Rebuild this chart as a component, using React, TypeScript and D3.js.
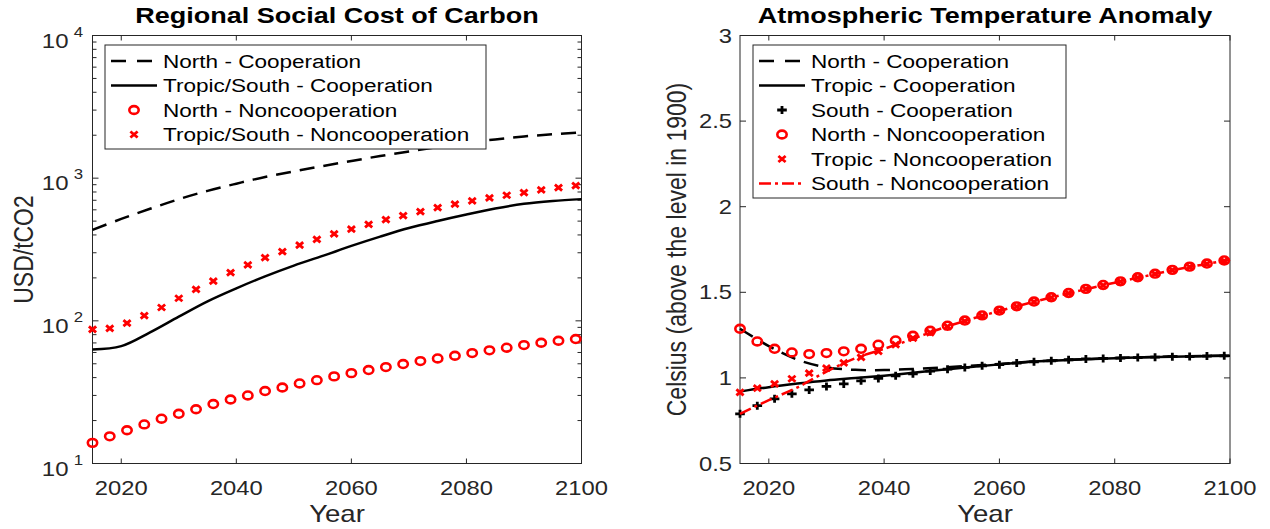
import React from "react";
import * as d3 from "d3";

// ---- data ----
const years3 = [2015, 2018, 2021, 2024, 2027, 2030, 2033, 2036, 2039, 2042, 2045, 2048, 2051, 2054, 2057,
  2060, 2063, 2066, 2069, 2072, 2075, 2078, 2081, 2084, 2087, 2090, 2093, 2096, 2099];
const years5 = [2015, 2020, 2025, 2030, 2035, 2040, 2045, 2050, 2055, 2060, 2065, 2070, 2075, 2080, 2085, 2090, 2095, 2100];

// Regional social cost of carbon (USD/tCO2)
const sccNorthCoop = [434, 518, 610, 712, 815, 915, 1020, 1115, 1215, 1320, 1430, 1540, 1655, 1770, 1870, 1960, 2030, 2095];
const sccSouthCoop = [63, 66.5, 83, 107, 137, 169, 205, 244, 285, 335, 389, 447, 501, 556, 612, 661, 692, 713];
const sccNorthNonc = [13.95, 15.5, 17.1, 18.8, 20.6, 22.3, 24.0, 26.1, 28.1, 30.0, 32.2, 34.1, 36.4, 38.4, 40.8,
  43.0, 45.2, 47.4, 49.8, 52.2, 54.5, 56.9, 59.4, 62.1, 64.8, 67.6, 70.2, 72.5, 74.5];
const sccSouthNonc = [87.1, 88.5, 96.5, 108.7, 124, 144, 166, 190, 218, 247, 277, 306, 339, 373, 407,
  440, 475, 512, 547, 583, 622, 657, 693, 727, 759, 792, 827, 859, 887];

// Atmospheric temperature anomaly (Celsius)
const tempNorthCoop = [1.287, 1.186, 1.106, 1.062, 1.047, 1.046, 1.052, 1.06, 1.071, 1.081, 1.094, 1.103, 1.11, 1.116, 1.121, 1.125, 1.128, 1.131];
const tempTropicCoop = [0.92, 0.946, 0.967, 0.985, 0.999, 1.013, 1.03, 1.047, 1.064, 1.079, 1.093, 1.102, 1.109, 1.115, 1.12, 1.124, 1.127, 1.13];
const tempSouthCoop = [0.79, 0.838, 0.878, 0.907, 0.93, 0.95, 0.965, 0.983, 0.997, 1.012, 1.024, 1.04, 1.051, 1.061, 1.071,
  1.077, 1.087, 1.094, 1.1, 1.106, 1.111, 1.114, 1.116, 1.119, 1.121, 1.124, 1.125, 1.128, 1.129];
const tempNorthNonc = [1.287, 1.213, 1.17, 1.149, 1.139, 1.145, 1.155, 1.17, 1.194, 1.219, 1.246, 1.275, 1.305, 1.335, 1.365,
  1.393, 1.418, 1.446, 1.471, 1.496, 1.52, 1.543, 1.564, 1.588, 1.609, 1.631, 1.65, 1.668, 1.686];
const tempTropicNonc = [0.915, 0.94, 0.965, 0.995, 1.028, 1.057, 1.088, 1.12, 1.155, 1.195, 1.232, 1.265, 1.3, 1.332, 1.362,
  1.391, 1.416, 1.444, 1.469, 1.494, 1.518, 1.541, 1.562, 1.586, 1.607, 1.629, 1.648, 1.666, 1.684];
const tempSouthNonc = [0.79, 0.87, 0.945, 1.037, 1.115, 1.17, 1.228, 1.29, 1.343, 1.391, 1.436, 1.478, 1.518, 1.556, 1.592, 1.629, 1.66, 1.69];

const yearTicks = [2020, 2040, 2060, 2080, 2100];
const tempTicks = [0.5, 1, 1.5, 2, 2.5, 3];

const sccLegend = ["North - Cooperation", "Tropic/South - Cooperation", "North - Noncooperation", "Tropic/South - Noncooperation"];
const tempLegend = ["North - Cooperation", "Tropic - Cooperation", "South - Cooperation", "North - Noncooperation",
  "Tropic - Noncooperation", "South - Noncooperation"];

// ---- look ----
const W = 1270, H = 529;
const SX = 1.2; // the figure is stretched sideways
const FONT = "'Liberation Sans', Arial, Helvetica, sans-serif";
const AX = "#262626";
const RED = "#ff0000";
const TOP = 35.5, BOTTOM = 463.5;

const Txt = ({ x, y, size, anchor = "middle", weight = "normal", rotate = 0, fill = AX, children }: any) => (
  <text transform={`translate(${x},${y}) scale(${SX},1)` + (rotate ? ` rotate(${rotate})` : "")}
    fontSize={size} textAnchor={anchor} fontWeight={weight} fill={fill} fontFamily={FONT}>{children}</text>
);

const Marker = ({ type, cx, cy }: any) => {
  if (type === "circle")
    return <ellipse cx={cx} cy={cy} rx={3.9 * SX} ry={3.9} fill="none" stroke={RED} strokeWidth={2.6} />;
  if (type === "cross") {
    const a = 3;
    return <path d={`M${cx - a * SX},${cy - a}L${cx + a * SX},${cy + a}M${cx - a * SX},${cy + a}L${cx + a * SX},${cy - a}`}
      stroke={RED} strokeWidth={2.9} fill="none" />;
  }
  const a = 4;
  return <path d={`M${cx - a * SX},${cy}h${2 * a * SX}M${cx},${cy - a}v${2 * a}`} stroke="black" strokeWidth={2.8} fill="none" />;
};

const lineStyle: any = {
  dash: { stroke: "black", dash: "15,11", len: 41 },
  solid: { stroke: "black", dash: null, len: 46 },
  dashdot: { stroke: RED, dash: "12,4,3,4", len: 46 },
};

const Legend = ({ x, y, w, labels, types }: any) => {
  const rowH = 24.5;
  const h = labels.length * rowH + 6;
  return (
    <g>
      <rect x={x} y={y} width={w} height={h} fill="white" stroke={AX} strokeWidth={1} />
      {labels.map((lab: string, i: number) => {
        const cy = y + 16 + i * rowH;
        const t = types[i];
        const ls = lineStyle[t];
        return (
          <g key={lab}>
            {ls ? <line x1={x + 6} x2={x + 6 + ls.len} y1={cy} y2={cy} stroke={ls.stroke} strokeWidth={2.5}
              strokeDasharray={ls.dash || undefined} />
              : <Marker type={t} cx={x + 29} cy={cy} />}
            <Txt x={x + 58} y={cy + 6.5} size={18.8} anchor="start" fill="black">{lab}</Txt>
          </g>
        );
      })}
    </g>
  );
};

const Frame = ({ x, y, yTickList, yMinor, yTickLabel, title, yLabel, yLabelX }: any) => {
  const [x0, x1] = x.range();
  return (
    <g>
      <rect x={x0} y={TOP} width={x1 - x0} height={BOTTOM - TOP} fill="none" stroke={AX} strokeWidth={1} />
      {yearTicks.map((t) => (
        <g key={t}>
          <line x1={x(t)} x2={x(t)} y1={BOTTOM} y2={BOTTOM - 5} stroke={AX} />
          <line x1={x(t)} x2={x(t)} y1={TOP} y2={TOP + 5} stroke={AX} />
          <Txt x={x(t)} y={494.5} size={19.8}>{t}</Txt>
        </g>
      ))}
      {yTickList.map((t: number) => (
        <g key={t}>
          <line x1={x0} x2={x0 + 6} y1={y(t)} y2={y(t)} stroke={AX} />
          <line x1={x1} x2={x1 - 6} y1={y(t)} y2={y(t)} stroke={AX} />
          {yTickLabel(t)}
        </g>
      ))}
      {(yMinor || []).map((t: number) => (
        <g key={"m" + t}>
          <line x1={x0} x2={x0 + 4} y1={y(t)} y2={y(t)} stroke={AX} />
          <line x1={x1} x2={x1 - 4} y1={y(t)} y2={y(t)} stroke={AX} />
        </g>
      ))}
      <Txt x={(x0 + x1) / 2} y={23} size={22.5} weight="bold" fill="black">{title}</Txt>
      <Txt x={(x0 + x1) / 2} y={522} size={23}>Year</Txt>
      <Txt x={yLabelX} y={(TOP + BOTTOM) / 2} size={23} rotate={-90}>{yLabel}</Txt>
    </g>
  );
};

const curve = d3.curveCatmullRom.alpha(0.5);

const SccPanel = () => {
  const x = d3.scaleLinear().domain([2015, 2100]).range([92.5, 581.5]);
  const y = d3.scaleLog().domain([10, 10000]).range([BOTTOM, TOP]);
  const all = y.ticks();
  const major = all.filter((t) => Math.abs(Math.log10(t) - Math.round(Math.log10(t))) < 1e-9);
  const minor = all.filter((t) => !major.includes(t));
  const line = d3.line<number>().curve(curve);
  const path = (vals: number[]) => line(vals.map((v, i) => [x(years5[i]), y(v)]) as any) as string;
  return (
    <g>
      <Frame x={x} y={y} yTickList={major} yMinor={minor} title="Regional Social Cost of Carbon"
        yLabel="USD/tCO2" yLabelX={33}
        yTickLabel={(t: number) => (
          <g>
            <Txt x={68.5} y={y(t) + 12} size={20} anchor="end">10</Txt>
            <Txt x={83} y={y(t) + 1} size={14} anchor="end">{Math.round(Math.log10(t))}</Txt>
          </g>
        )} />
      <path d={path(sccNorthCoop)} fill="none" stroke="black" strokeWidth={2.5} strokeDasharray="15,9" />
      <path d={path(sccSouthCoop)} fill="none" stroke="black" strokeWidth={2.5} />
      {sccNorthNonc.map((v, i) => <Marker key={"n" + i} type="circle" cx={x(years3[i])} cy={y(v)} />)}
      {sccSouthNonc.map((v, i) => <Marker key={"s" + i} type="cross" cx={x(years3[i])} cy={y(v)} />)}
      <Legend x={105} y={45} w={381} labels={sccLegend} types={["dash", "solid", "circle", "cross"]} />
    </g>
  );
};

const TempPanel = () => {
  const x = d3.scaleLinear().domain([2015, 2100]).range([740, 1230]);
  const y = d3.scaleLinear().domain([0.5, 3]).range([BOTTOM, TOP]);
  const line = d3.line<number>().curve(curve);
  const path = (vals: number[]) => line(vals.map((v, i) => [x(years5[i]), y(v)]) as any) as string;
  return (
    <g>
      <Frame x={x} y={y} yTickList={tempTicks} title="Atmospheric Temperature Anomaly"
        yLabel="Celsius (above the level in 1900)" yLabelX={686}
        yTickLabel={(t: number) => <Txt x={732} y={y(t) + 7} size={19.8} anchor="end">{t}</Txt>} />
      <path d={path(tempNorthCoop)} fill="none" stroke="black" strokeWidth={2.5} strokeDasharray="15,9" />
      <path d={path(tempTropicCoop)} fill="none" stroke="black" strokeWidth={2.5} />
      {tempSouthCoop.map((v, i) => <Marker key={"sc" + i} type="plus" cx={x(years3[i])} cy={y(v)} />)}
      {tempNorthNonc.map((v, i) => <Marker key={"nn" + i} type="circle" cx={x(years3[i])} cy={y(v)} />)}
      {tempTropicNonc.map((v, i) => <Marker key={"tn" + i} type="cross" cx={x(years3[i])} cy={y(v)} />)}
      <path d={path(tempSouthNonc)} fill="none" stroke={RED} strokeWidth={2.5} strokeDasharray="12,4,3,4" />
      <Legend x={753} y={45} w={313} labels={tempLegend}
        types={["dash", "solid", "plus", "circle", "cross", "dashdot"]} />
    </g>
  );
};

export default function App() {
  return (
    <svg width={W} height={H} style={{ position: "absolute", left: 0, top: 0, background: "white" }}>
      <rect width={W} height={H} fill="white" />
      <SccPanel />
      <TempPanel />
    </svg>
  );
}
